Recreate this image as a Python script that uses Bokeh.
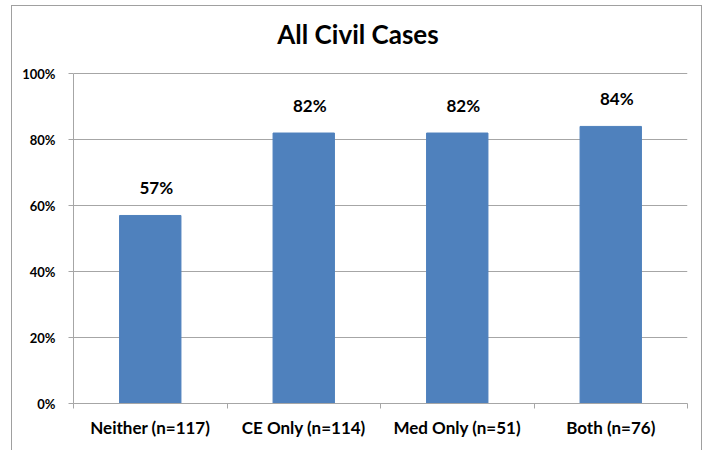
from bokeh.plotting import figure
from bokeh.models import Range1d, FixedTicker, NumeralTickFormatter, ColumnDataSource, Label
from bokeh.core.properties import value
from bokeh.embed import file_html
from bokeh.resources import INLINE

title_text = "All Civil Cases"
categories = ["Neither (n=117)", "CE Only (n=114)", "Med Only (n=51)", "Both (n=76)"]
rates = [0.57, 0.82, 0.82, 0.84]
y_ticks = [0, 0.2, 0.4, 0.6, 0.8, 1.0]

FONT = "Lato"
GRID = "#A6A6A6"
BAR = "#4F81BD"

xs = [i + 0.5 for i in range(len(categories))]
labels = [f"{round(v * 100)}%" for v in rates]
src = ColumnDataSource(dict(x=xs, top=rates, label=labels))

# geometry (pixels): the plotting frame is stretched up to hold the title,
# while the axis and grid stop at 100%
HEIGHT = 445
BORDER_TOP = 10
BORDER_BOTTOM = 48
PX_PER_UNIT = 329.0          # pixels from 0% to 100%
CAT_W = 153.5                # pixels per category
frame_h = HEIGHT - 1 - BORDER_TOP - BORDER_BOTTOM
y_max = frame_h / PX_PER_UNIT

p = figure(width=691, height=HEIGHT, output_backend="svg", toolbar_location=None,
           x_range=Range1d(0, len(categories)), y_range=Range1d(0, y_max),
           min_border_left=61, min_border_right=16,
           min_border_top=BORDER_TOP, min_border_bottom=BORDER_BOTTOM,
           margin=(5, 0, 0, 11),
           styles={"border-top": "1px solid #A0A0A0", "border-left": "1px solid #A0A0A0",
                   "border-right": "1px solid #A0A0A0", "box-sizing": "border-box"})
p.outline_line_color = None

# chart title, centred on the whole chart area (slightly left of the plot centre)
p.add_layout(Label(x=len(categories) / 2 - 22.5 / CAT_W, y=1 + 40 / PX_PER_UNIT,
                   text=title_text, text_align="center", text_baseline="alphabetic",
                   text_font=FONT, text_font_size="26px", text_font_style="bold",
                   text_color="black"))

p.vbar(x="x", top="top", width=0.4, bottom=0, source=src, fill_color=BAR, line_color=BAR)
p.text(x="x", y="top", text="label", source=src, x_offset=6, y_offset=-28,
       text_align="center", text_baseline="alphabetic",
       text_font=value(FONT), text_font_size="17px", text_font_style="bold", text_color="black")

# x axis: labels at category centres, ticks at boundaries
xa = p.xaxis[0]
xa.ticker = FixedTicker(ticks=xs, minor_ticks=[float(i) for i in range(len(categories) + 1)])
xa.major_label_overrides = {x: c for x, c in zip(xs, categories)}
xa.major_tick_line_color = None
xa.major_tick_out = 0
xa.major_tick_in = 0
xa.minor_tick_out = 5
xa.minor_tick_in = 0
xa.minor_tick_line_color = GRID
xa.axis_line_color = GRID
xa.major_label_standoff = 8
xa.major_label_text_font = FONT
xa.major_label_text_font_size = "17px"
xa.major_label_text_font_style = "bold"
xa.major_label_text_color = "black"

ya = p.yaxis[0]
ya.ticker = FixedTicker(ticks=y_ticks, minor_ticks=[])
ya.bounds = (0, 1)
ya.formatter = NumeralTickFormatter(format="0%")
ya.major_tick_out = 5
ya.major_tick_in = 0
ya.major_tick_line_color = GRID
ya.axis_line_color = GRID
ya.major_label_standoff = 13
ya.major_label_text_font = FONT
ya.major_label_text_font_size = "13px"
ya.major_label_text_font_style = "bold"
ya.major_label_text_color = "black"

p.xgrid.grid_line_color = None
p.ygrid.grid_line_color = GRID
p.ygrid.grid_line_width = 1

open("out.html", "w").write(file_html(p, INLINE))
